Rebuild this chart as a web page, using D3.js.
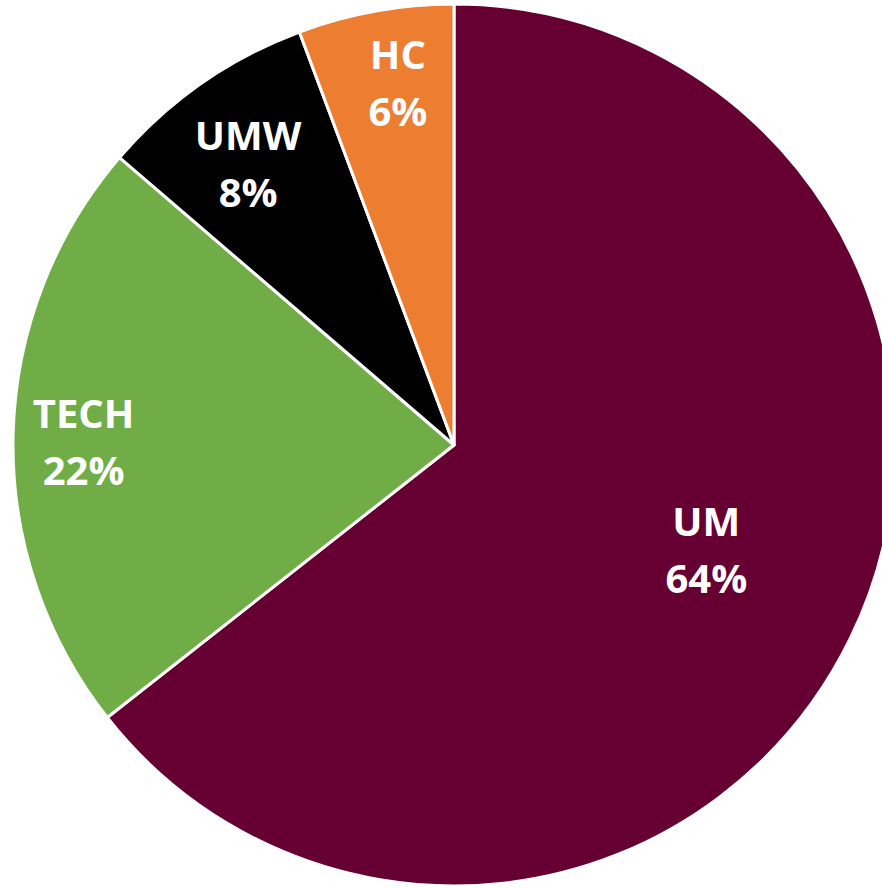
<!DOCTYPE html>
<html>
<head>
<meta charset="utf-8">
<script src="https://cdn.jsdelivr.net/npm/d3@7"></script>
<style>
  html, body { margin: 0; padding: 0; background: #fff; }
  svg { display: block; }
</style>
</head>
<body>
<svg width="882" height="888"></svg>
<script>
// slice data, clockwise from 12 o'clock
var names = ["UM", "TECH", "UMW", "HC"];
var shares = [64.4, 21.9, 8.0, 5.7];
var colors = ["#660033", "#70AD47", "#000000", "#ED7D31"];

var svg = d3.select("svg"),
	cx = 454,
	cy = 445,
	radius = 441;

var data = names.map(function (n, i) { return { name: n, value: shares[i], color: colors[i] }; });

var pie = d3.pie()
	.sort(null)
	.value(function (d) { return d.value; });

var arc = d3.arc()
	.innerRadius(0)
	.outerRadius(radius);

var g = svg.append("g")
	.attr("transform", "translate(" + cx + "," + cy + ")");

var arcs = pie(data);

g.selectAll("path")
	.data(arcs)
	.enter().append("path")
	.attr("d", arc)
	.attr("fill", function (d) { return d.data.color; })
	.attr("stroke", "#fff")
	.attr("stroke-width", 3)
	.attr("stroke-linejoin", "round");

// label placement: r = share of radius, t = how far along the slice's angle
var labelPos = {
	UM: { r: 0.62, t: 0.486 },
	TECH: { r: 0.84, t: 0.49 },
	UMW: { r: 0.79, t: 0.455 },
	HC: { r: 0.83, t: 0.57 }
};

var labels = g.selectAll("text.lbl")
	.data(arcs)
	.enter().append("text")
	.attr("class", "lbl")
	.attr("transform", function (d) {
		var p = labelPos[d.data.name];
		var r = radius * p.r;
		var a = d.startAngle + (d.endAngle - d.startAngle) * p.t;
		return "translate(" + (Math.sin(a) * r) + "," + (-Math.cos(a) * r) + ")";
	})
	.attr("text-anchor", "middle")
	.style("font-family", "'Open Sans', sans-serif")
	.style("font-weight", "bold")
	.style("font-size", "40px")
	.style("fill", "#fff");

labels.append("tspan")
	.attr("x", 0)
	.attr("y", -14)
	.text(function (d) { return d.data.name; });

labels.append("tspan")
	.attr("x", 0)
	.attr("y", 43)
	.text(function (d) { return Math.round(d.data.value) + "%"; });
</script>
</body>
</html>
